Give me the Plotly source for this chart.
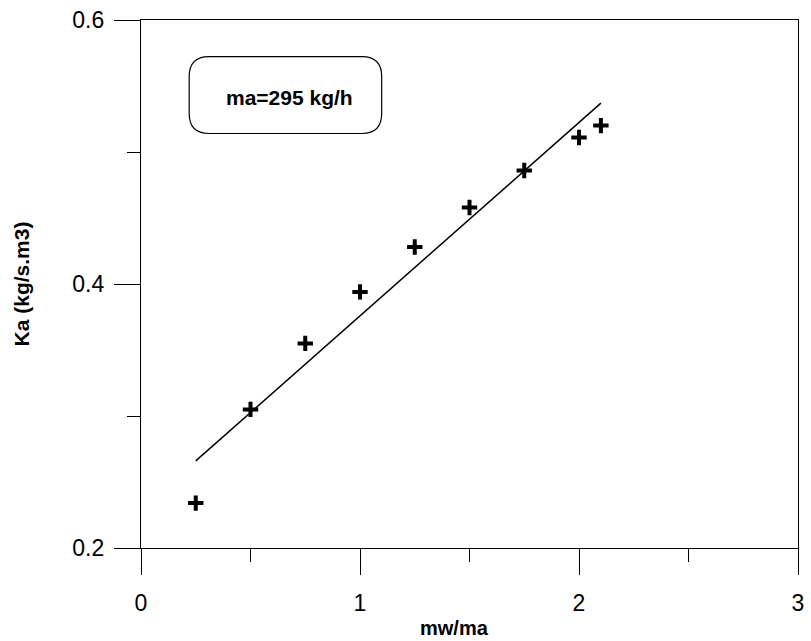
import plotly.graph_objects as go

# Measured points
mw_ma = [0.25, 0.50, 0.75, 1.00, 1.25, 1.50, 1.75, 2.00, 2.10]
ka = [0.234, 0.305, 0.355, 0.394, 0.428, 0.458, 0.486, 0.511, 0.520]

# Fitted line (end points)
fit_x = [0.25, 2.10]
fit_y = [0.266, 0.537]

x_ticks = [0, 1, 2, 3]
y_ticks = [0.2, 0.4, 0.6]
y_tick_labels = ["0.2", "0.4", "0.6"]

FONT = "Liberation Sans, Arial, sans-serif"

fig = go.Figure()
fig.add_trace(go.Scatter(
    x=fit_x, y=fit_y, mode="lines",
    line=dict(color="black", width=1.5), showlegend=False, hoverinfo="skip"))
fig.add_trace(go.Scatter(
    x=mw_ma, y=ka, mode="markers",
    marker=dict(symbol="cross-thin", size=11, color="black",
                line=dict(color="black", width=4)),
    showlegend=False))

# rounded box around label
x0, x1, y0, y1 = 0.22, 1.099, 0.514, 0.5722
rx, ry = 0.09, 0.0151
path = (f"M {x0+rx},{y1} L {x1-rx},{y1} Q {x1},{y1} {x1},{y1-ry} "
        f"L {x1},{y0+ry} Q {x1},{y0} {x1-rx},{y0} L {x0+rx},{y0} "
        f"Q {x0},{y0} {x0},{y0+ry} L {x0},{y1-ry} Q {x0},{y1} {x0+rx},{y1} Z")
fig.add_shape(type="path", path=path, xref="x", yref="y",
              line=dict(color="black", width=1.2), fillcolor="rgba(0,0,0,0)")

fig.add_annotation(x=0.68, y=0.5413, xref="x", yref="y", text="<b>ma=295 kg/h</b>",
                   showarrow=False, font=dict(family=FONT, size=21, color="black"))

# axis titles
fig.add_annotation(x=1.43, y=-0.151, xref="x", yref="paper",
                   text="<b>mw/ma</b>",
                   showarrow=False, font=dict(family=FONT, size=20, color="black"),
                   yanchor="middle")
fig.add_annotation(x=-0.182, y=0.5, xref="paper", yref="paper", text="<b>Ka (kg/s.m3)</b>",
                   showarrow=False, textangle=-90,
                   font=dict(family=FONT, size=21, color="black"),
                   xanchor="center", yanchor="middle")

axis_common = dict(showgrid=False, zeroline=False, showline=True, linecolor="black",
                   linewidth=1.3, mirror=True, ticks="outside", ticklen=26,
                   tickwidth=1.3, tickcolor="black",
                   tickfont=dict(family=FONT, size=23, color="black"))

fig.update_xaxes(range=[0, 3], tickvals=x_ticks, ticktext=[str(v) for v in x_ticks],
                 ticklabelstandoff=8,
                 minor=dict(ticks="outside", ticklen=13, tickwidth=1.3,
                            tickcolor="black", dtick=0.5),
                 **axis_common)
fig.update_yaxes(range=[0.2, 0.6], tickvals=y_ticks, ticktext=y_tick_labels,
                 ticklabelstandoff=5,
                 minor=dict(ticks="outside", ticklen=13, tickwidth=1.3,
                            tickcolor="black", dtick=0.1),
                 **axis_common)

fig.update_layout(width=811, height=641, margin=dict(l=141, r=7, t=19, b=93),
                  plot_bgcolor="white", paper_bgcolor="white",
                  font=dict(family=FONT, color="black"))

fig.write_html("out.html")
